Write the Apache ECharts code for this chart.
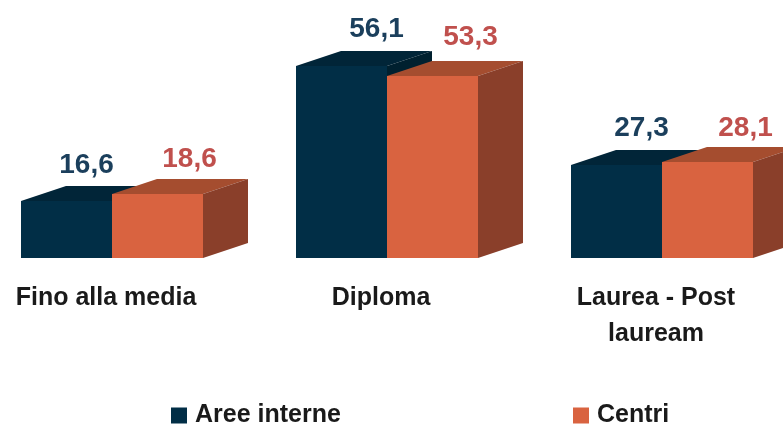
<!DOCTYPE html>
<html lang="en">
<head>
    <meta charset="utf-8">
    <title>Aree interne e Centri</title>
    <script src="https://cdn.jsdelivr.net/npm/echarts@6/dist/echarts.min.js"></script>
    <style>
        html, body { margin: 0; padding: 0; background: #fff; }
        #main { width: 783px; height: 425px; }
    </style>
</head>
<body>
<div id="main"></div>
<script>
    var categories = ['Fino alla media', 'Diploma', 'Laurea - Post\nlauream'];
    var areeInterne = [16.6, 56.1, 27.3];
    var centri = [18.6, 53.3, 28.1];

    // label nudges, the labels in the original are not centred on the bars
    var areeLabelShift = [[20, -36], [35, -37], [25, -37]];
    var centriLabelShift = [[32, -35], [38, -39], [38, -34]];

    var font = '"Liberation Sans", sans-serif';
    var depthX = 45;
    var depthY = 15;
    var barWidth = 91;

    function box3d(front, top, side, textColor, shifts, dir) {
        return function (params, api) {
            var i = api.value(0);
            var val = api.value(1);
            var p = api.coord([i, val]);
            // whole pixels, otherwise the layers underneath show through the edges
            var base = Math.round(api.coord([i, 0])[1]);
            var x = Math.round(dir < 0 ? p[0] - barWidth : p[0]);
            var y = Math.round(p[1]);
            var x2 = x + barWidth;
            return {
                type: 'group',
                children: [
                    {
                        type: 'polygon',
                        shape: { points: [[x, y], [x + depthX, y - depthY], [x2 + depthX, y - depthY], [x2, y]] },
                        style: { fill: top }
                    },
                    {
                        type: 'polygon',
                        shape: { points: [[x2, y], [x2 + depthX, y - depthY], [x2 + depthX, base - depthY], [x2, base]] },
                        style: { fill: side }
                    },
                    {
                        type: 'rect',
                        shape: { x: x, y: y, width: barWidth, height: base - y },
                        style: { fill: front }
                    },
                    {
                        type: 'text',
                        style: {
                            x: x + barWidth / 2 + shifts[i][0],
                            y: y + shifts[i][1],
                            text: val.toFixed(1).replace('.', ','),
                            fill: textColor,
                            font: 'bold 28px ' + font,
                            textAlign: 'center',
                            textVerticalAlign: 'middle'
                        }
                    }
                ]
            };
        };
    }

    function toData(values) {
        return values.map(function (v, i) { return [i, v]; });
    }

    var myChart = echarts.init(document.getElementById('main'));
    var option = {
        animation: false,
        backgroundColor: '#fff',
        grid: { left: -25.5, right: -16.5, top: 18.6, bottom: 167, outerBoundsMode: 'none' },
        legend: [
            {
                data: ['Aree interne'],
                left: 171, top: 403, padding: 0,
                itemWidth: 16, itemHeight: 16,
                icon: 'rect',
                textStyle: { fontFamily: font, fontWeight: 'bold', fontSize: 25, color: '#1a1a1a', padding: [0, 0, 0, 3] }
            },
            {
                data: ['Centri'],
                left: 573, top: 403, padding: 0,
                itemWidth: 16, itemHeight: 16,
                icon: 'rect',
                textStyle: { fontFamily: font, fontWeight: 'bold', fontSize: 25, color: '#1a1a1a', padding: [0, 0, 0, 3] }
            }
        ],
        xAxis: {
            type: 'category',
            data: categories,
            axisLine: { show: false },
            axisTick: { show: false },
            axisLabel: {
                interval: 0,
                margin: 22,
                padding: [0, 12, 0, 0],
                fontFamily: font,
                fontWeight: 'bold',
                fontSize: 25,
                lineHeight: 36,
                color: '#1a1a1a'
            }
        },
        yAxis: { type: 'value', min: 0, max: 70, show: false },
        series: [
            {
                name: 'Aree interne',
                type: 'custom',
                clip: false,
                itemStyle: { color: '#012E46' },
                data: toData(areeInterne),
                renderItem: box3d('#012E46', '#012538', '#00202F', '#1B3F5C', areeLabelShift, -1)
            },
            {
                name: 'Centri',
                type: 'custom',
                clip: false,
                itemStyle: { color: '#D96340' },
                data: toData(centri),
                renderItem: box3d('#D96340', '#A54D2F', '#8A3F2A', '#C0504D', centriLabelShift, 1)
            }
        ]
    };
    myChart.setOption(option);
</script>
</body>
</html>
